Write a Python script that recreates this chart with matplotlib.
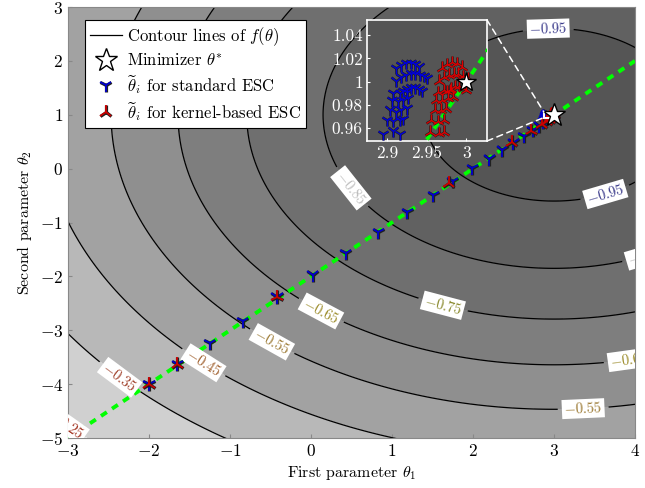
import numpy as np
import matplotlib
matplotlib.use('Agg')
import matplotlib.pyplot as plt
from matplotlib.lines import Line2D
from matplotlib.patches import Rectangle, ConnectionPatch
import matplotlib.patheffects as pe

plt.rcParams['font.family'] = 'serif'
plt.rcParams['font.serif'] = ['cmr10', 'DejaVu Serif']
plt.rcParams['mathtext.fontset'] = 'cm'
plt.rcParams['axes.formatter.use_mathtext'] = True
plt.rcParams['axes.unicode_minus'] = False

# cost function: f(theta) = -exp(-k * |theta - theta_star|^2)
theta_star = (3.0, 1.0)
f_scale = 0.02
levels = [-0.95, -0.85, -0.75, -0.65, -0.55, -0.45, -0.35, -0.25]
fill_grays = ['#555555', '#616161', '#6f6f6f', '#7e7e7e', '#8f8f8f', '#a2a2a2',
              '#b8b8b8', '#d0d0d0', '#e9e9e9']
label_colors = ['#3c3c8c', '#bdbdbd', '#8a8a2e', '#9c8c2a', '#9c7a34', '#a0602e',
                '#a0402a', '#a0301e']

# iterates of standard ESC (blue)
blue_t1 = [-2.00, -1.65, -1.25, -0.84, -0.42, 0.02, 0.43, 0.83, 1.19, 1.51, 1.75, 1.99,
           2.20, 2.36, 2.50, 2.63, 2.74, 2.82, 2.87, 2.89, 2.90,
           2.895, 2.908, 2.916,
           2.900, 2.908, 2.916, 2.920,
           2.904, 2.912, 2.918, 2.925,
           2.906, 2.914, 2.920, 2.927,
           2.908, 2.916, 2.925,
           2.920, 2.925, 2.930, 2.935, 2.940, 2.944,
           2.912, 2.918, 2.924, 2.930, 2.936, 2.942, 2.947, 2.951,
           2.912, 2.918, 2.924, 2.930, 2.936, 2.941]
blue_t2 = [-4.00, -3.63, -3.24, -2.83, -2.38, -1.97, -1.57, -1.18, -0.81, -0.49, -0.23, 0.01,
           0.18, 0.35, 0.48, 0.60, 0.71, 0.80, 0.87, 0.915, 0.94,
           0.955, 0.958, 0.955,
           0.967, 0.966, 0.967, 0.968,
           0.976, 0.974, 0.976, 0.977,
           0.984, 0.983, 0.984, 0.986,
           0.990, 0.990, 0.991,
           0.992, 0.994, 0.995, 0.995, 0.994, 0.992,
           1.001, 1.004, 1.006, 1.007, 1.007, 1.006, 1.005, 1.003,
           1.012, 1.014, 1.016, 1.016, 1.015, 1.013]

# iterates of kernel-based ESC (red)
red_t1 = [-2.00, -1.65, -0.42, 1.70, 2.48, 2.72, 2.85, 2.91, 2.94, 2.95,
          2.954, 2.966, 2.972,
          2.956, 2.964, 2.972,
          2.960, 2.968, 2.975,
          2.962, 2.970, 2.977, 2.983,
          2.964, 2.972, 2.979,
          2.976, 2.981, 2.986, 2.991, 2.996, 3.000,
          2.966, 2.972, 2.978, 2.984, 2.990, 2.996, 3.002,
          2.970, 2.976, 2.982, 2.988, 2.994]
red_t2 = [-4.00, -3.63, -2.38, -0.27, 0.49, 0.70, 0.82, 0.88, 0.92, 0.94,
          0.957, 0.956, 0.957,
          0.967, 0.966, 0.967,
          0.976, 0.976, 0.977,
          0.984, 0.984, 0.986, 0.987,
          0.991, 0.993, 0.993,
          0.992, 0.994, 0.996, 0.996, 0.995, 0.993,
          1.001, 1.004, 1.006, 1.007, 1.007, 1.005, 1.003,
          1.012, 1.015, 1.017, 1.016, 1.013]

# straight reference line theta2 = theta1 - 2
ref_t1 = [-3.0, 4.0]
ref_t2 = [-5.0, 2.0]

x_range = (-3, 4)
y_range = (-5, 3)
inset_x = (2.875, 3.026)
inset_y = (0.949, 1.053)

# grid a little wider than the axes so labels can sit on the edge and get clipped
xx = np.linspace(x_range[0] - 0.5, x_range[1] + 0.5, 600)
yy = np.linspace(y_range[0] - 0.5, y_range[1] + 0.5, 600)
X, Y = np.meshgrid(xx, yy)
F = -np.exp(-f_scale * ((X - theta_star[0])**2 + (Y - theta_star[1])**2))
fill_levels = [-1.01] + levels + [0.0]

fig = plt.figure(figsize=(6.45, 4.88), dpi=100)
ax = fig.add_axes([0.1054, 0.1025, 0.879, 0.883])

ax.contourf(X, Y, F, levels=fill_levels, colors=fill_grays)
cs = ax.contour(X, Y, F, levels=levels, colors='k', linewidths=0.9, linestyles='solid')

label_pos = [(2.93, 2.57), (3.63, -0.45), (0.54, -0.30), (4.15, -1.62), (1.63, -2.53),
             (0.11, -2.68), (3.93, -3.57), (-0.47, -3.18), (3.36, -4.42),
             (-1.33, -3.61), (-2.36, -3.87), (-3.01, -4.75)]
lbls = ax.clabel(cs, levels=levels, inline=True, inline_spacing=3, fontsize=10.5,
                 fmt=lambda v: r'$%.2f$' % v, colors=label_colors, manual=label_pos)
for t in lbls:
    t.set_bbox(dict(facecolor='white', edgecolor='none', pad=1.5))
    t.set_clip_on(True)
    t.set_clip_path(ax.patch)

ax.plot(ref_t1, ref_t2, color='#00ff00', lw=2.8, ls=(0, (1.8, 1.6)), zorder=3)

stroke = [pe.Stroke(linewidth=2.3, foreground='#202020'), pe.Normal()]
ax.plot(blue_t1, blue_t2, ls='none', marker='1', ms=10, mew=1.3, color='#0000cc',
        path_effects=stroke, zorder=4)
ax.plot(red_t1, red_t2, ls='none', marker='2', ms=10, mew=1.3, color='#cc0000',
        path_effects=stroke, zorder=5)
ax.plot(theta_star[0], theta_star[1], ls='none', marker='*', ms=17, mfc='white',
        mec='k', mew=1.0, zorder=7)
ax.add_patch(Rectangle((inset_x[0], inset_y[0]), inset_x[1] - inset_x[0],
                       inset_y[1] - inset_y[0], fill=False, ec='white', lw=1.5, zorder=6))

ax.set_xlim(x_range)
ax.set_ylim(y_range)
ax.set_xticks(range(-3, 5))
ax.set_yticks(range(-5, 4))
ax.tick_params(direction='in', length=3, labelsize=12.5, color='#888888')
for s in ax.spines.values():
    s.set_color('#888888')
    s.set_linewidth(0.8)
ax.set_xlabel(r'First parameter $\theta_1$', fontsize=11.5)
ax.set_ylabel(r'Second parameter $\theta_2$', fontsize=11.5)

handles = [Line2D([], [], color='k', lw=0.9),
           Line2D([], [], ls='none', marker='*', ms=17, mfc='white', mec='k', mew=1.0),
           Line2D([], [], ls='none', marker='1', ms=10, mew=1.3, color='#0000cc', path_effects=stroke),
           Line2D([], [], ls='none', marker='2', ms=10, mew=1.3, color='#cc0000', path_effects=stroke)]
names = [r'Contour lines of $f(\theta)$', r'Minimizer $\theta^{*}$',
         r'$\widetilde{\theta}_i$ for standard ESC', r'$\widetilde{\theta}_i$ for kernel-based ESC']
leg = ax.legend(handles, names, loc='upper left', bbox_to_anchor=(0.03, 0.97),
                borderaxespad=0, fontsize=12, fancybox=False, framealpha=1,
                edgecolor='k', handlelength=1.9, handletextpad=0.3,
                labelspacing=0.25, borderpad=0.3)
leg.get_frame().set_linewidth(0.8)
leg.set_zorder(10)

# zoomed inset around the minimizer
axi = fig.add_axes([0.569, 0.711, 0.186, 0.248])
axi.contourf(X, Y, F, levels=fill_levels, colors=fill_grays)
axi.plot(ref_t1, ref_t2, color='#00ff00', lw=2.8, ls=(0, (1.8, 1.6)), zorder=3)
stroke_in = [pe.Stroke(linewidth=1.9, foreground='#202020'), pe.Normal()]
axi.plot(blue_t1, blue_t2, ls='none', marker='1', ms=9, mew=1.0, color='#0000dd',
         path_effects=stroke_in, zorder=4)
axi.plot(red_t1, red_t2, ls='none', marker='2', ms=9, mew=1.0, color='#dd0000',
         path_effects=stroke_in, zorder=5)
axi.plot(theta_star[0], theta_star[1], ls='none', marker='*', ms=15, mfc='white',
         mec='k', mew=1.0, zorder=7)
axi.set_xlim(inset_x)
axi.set_ylim(inset_y)
axi.set_xticks([2.9, 2.95, 3.0])
axi.set_xticklabels(['2.9', '2.95', '3'])
axi.set_yticks([0.96, 0.98, 1.0, 1.02, 1.04])
axi.set_yticklabels(['0.96', '0.98', '1', '1.02', '1.04'])
axi.tick_params(direction='in', length=2, colors='white', labelsize=12.5, pad=3)
for s in axi.spines.values():
    s.set_color('white')
    s.set_linewidth(1.2)

for ca, cb in [((1, 1), (inset_x[0], inset_y[1])), ((1, 0), (inset_x[0], inset_y[0]))]:
    con = ConnectionPatch(xyA=ca, coordsA=axi.transAxes, xyB=cb, coordsB=ax.transData,
                          color='white', lw=1.1, ls=(0, (4, 3)))
    fig.add_artist(con)

fig.savefig('out.png', dpi=100)
